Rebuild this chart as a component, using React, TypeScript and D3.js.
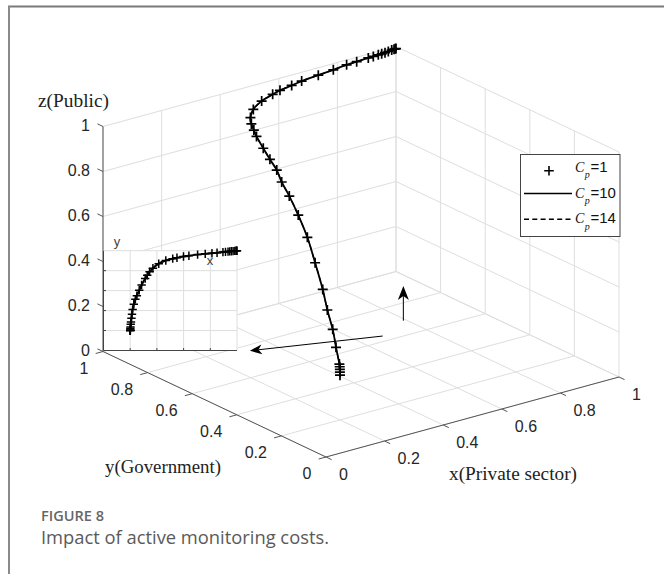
import React from "react";
import * as d3 from "d3";

// ---------- data ----------
// trajectory samples (x: private sector, y: government, z: public)
const trajX = [0.2, 0.2, 0.2003, 0.2006, 0.201, 0.2012, 0.2021, 0.204, 0.2058, 0.2094, 0.2134, 0.2181, 0.2271, 0.2388, 0.2498, 0.2676, 0.2855, 0.3123, 0.3276, 0.345, 0.37, 0.4138, 0.4667, 0.5184, 0.5503, 0.5992, 0.6398, 0.7049, 0.7619, 0.8124, 0.8506, 0.8948, 0.9138, 0.9328, 0.9457, 0.9582, 0.9708, 0.9837, 0.9925, 0.997, 1.0];
const trajY = [0.2, 0.2005, 0.201, 0.202, 0.204, 0.2195, 0.2354, 0.262, 0.285, 0.324, 0.364, 0.411, 0.463, 0.5125, 0.549, 0.603, 0.6564, 0.722, 0.754, 0.788, 0.825, 0.8696, 0.9017, 0.9203, 0.9294, 0.9412, 0.9498, 0.9607, 0.9682, 0.975, 0.98, 0.986, 0.9885, 0.991, 0.9928, 0.9944, 0.9961, 0.9978, 0.999, 0.9995, 1.0];
const trajZ = [0.199, 0.212, 0.224, 0.235, 0.246, 0.313, 0.385, 0.458, 0.538, 0.637, 0.73, 0.805, 0.862, 0.897, 0.929, 0.945, 0.963, 0.975, 0.983, 0.988, 0.99, 0.99, 0.993, 0.996, 0.998, 0.997, 0.998, 0.996, 0.996, 0.997, 0.995, 0.993, 0.992, 0.991, 0.99, 0.99, 0.99, 0.991, 0.991, 0.991, 0.991];

const tickValues = [0, 0.2, 0.4, 0.6, 0.8, 1];
const tickLabels = ["0", "0.2", "0.4", "0.6", "0.8", "1"];
const insetGrid = [0.2, 0.4, 0.6, 0.8, 1];

const legendCp = ["1", "10", "14"];
const legendKinds = ["marker", "solid", "dashed"];

const titleX = "x(Private sector)";
const titleY = "y(Government)";
const titleZ = "z(Public)";
const captionHead = "FIGURE 8";
const captionText = "Impact of active monitoring costs.";

// annotation arrows in data space (floor plane projection pointer, upward pointer)
const arrowFloorFrom = [0.676, 0.634, 0];
const arrowFloorTo = [0.3217, 0.7636, 0];
const arrowUpFrom = [0.791, 0.6924, 0];
const arrowUpTo = [0.791, 0.6924, 0.154];

// ---------- layout ----------
const W = 664;
const H = 574;
const OX = 326;
const OY = 457;

const xToPx = d3.scaleLinear().domain([0, 1]).range([0, 293]);
const xToPy = d3.scaleLinear().domain([0, 1]).range([0, -80]);
const yToPx = d3.scaleLinear().domain([0, 1]).range([0, -223]);
const yToPy = d3.scaleLinear().domain([0, 1]).range([0, -105.5]);
const zToPy = d3.scaleLinear().domain([0, 1]).range([0, -225]);

function proj(x: number, y: number, z: number): [number, number] {
  return [OX + xToPx(x) + yToPx(y), OY + xToPy(x) + yToPy(y) + zToPy(z)];
}

const insetX = d3.scaleLinear().domain([0, 1]).range([103.5, 237]);
const insetY = d3.scaleLinear().domain([0, 1]).range([350.5, 250.7]);

const GRID = "#dedede";
const AXIS = "#555";
const TICKTXT = "#262626";
const SANS = "'Liberation Sans', Arial, sans-serif";
const SERIF = "'Liberation Serif', 'Times New Roman', serif";

function Plus({ x, y, r, sw }: { x: number; y: number; r: number; sw: number }) {
  return (
    <path d={`M${x - r},${y}H${x + r}M${x},${y - r}V${y + r}`} stroke="#000" strokeWidth={sw} fill="none" />
  );
}

function Arrow({ from, to, len, hw }: { from: [number, number]; to: [number, number]; len: number; hw: number }) {
  const dx = to[0] - from[0];
  const dy = to[1] - from[1];
  const d = Math.hypot(dx, dy);
  const ux = dx / d, uy = dy / d;
  const nx = -uy, ny = ux;
  const bx = to[0] - ux * len, by = to[1] - uy * len;
  const notchX = to[0] - ux * len * 0.72, notchY = to[1] - uy * len * 0.72;
  const head = `M${to[0]},${to[1]}L${bx + nx * hw},${by + ny * hw}L${notchX},${notchY}L${bx - nx * hw},${by - ny * hw}Z`;
  return (
    <g>
      <line x1={from[0]} y1={from[1]} x2={notchX} y2={notchY} stroke="#000" strokeWidth={1} />
      <path d={head} fill="#000" stroke="none" />
    </g>
  );
}

export default function App() {
  const pts3 = trajX.map((x, i) => proj(x, trajY[i], trajZ[i]));
  const ptsIn = trajX.map((x, i) => [insetX(x), insetY(trajY[i])] as [number, number]);
  const lineGen = d3.line<[number, number]>().curve(d3.curveCatmullRom.alpha(0.5));

  const grid: JSX.Element[] = [];
  tickValues.forEach((t, i) => {
    const a1 = proj(t, 0, 0), a2 = proj(t, 1, 0);
    const b1 = proj(0, t, 0), b2 = proj(1, t, 0);
    const c1 = proj(t, 1, 0), c2 = proj(t, 1, 1);
    const e1 = proj(0, 1, t), e2 = proj(1, 1, t);
    const f1 = proj(1, t, 0), f2 = proj(1, t, 1);
    const g1 = proj(1, 0, t), g2 = proj(1, 1, t);
    [[a1, a2], [b1, b2], [c1, c2], [e1, e2], [f1, f2], [g1, g2]].forEach((s, j) => {
      grid.push(
        <line key={`g${i}-${j}`} x1={s[0][0]} y1={s[0][1]} x2={s[1][0]} y2={s[1][1]} stroke={GRID} strokeWidth={1} />
      );
    });
  });

  const zAx0 = proj(0, 1, 0), zAx1 = proj(0, 1, 1);
  const yAx0 = proj(0, 0, 0), yAx1 = proj(0, 1, 0);
  const xAx0 = proj(0, 0, 0), xAx1 = proj(1, 0, 0);

  return (
    <svg width={W} height={H} viewBox={`0 0 ${W} ${H}`} style={{ position: "absolute", left: 0, top: 0, background: "#fff" }}>
      <rect x={0} y={0} width={W} height={H} fill="#fff" />
      {/* figure frame */}
      <line x1={8} y1={6.5} x2={W} y2={6.5} stroke="#7a7a7a" strokeWidth={2} />
      <line x1={9} y1={6} x2={9} y2={H} stroke="#8a8a8a" strokeWidth={2} />

      {/* 3D grid */}
      <g>{grid}</g>

      {/* axes */}
      <line x1={zAx0[0]} y1={zAx0[1]} x2={zAx1[0]} y2={zAx1[1]} stroke={AXIS} strokeWidth={1} />
      <line x1={yAx0[0]} y1={yAx0[1]} x2={yAx1[0]} y2={yAx1[1]} stroke={AXIS} strokeWidth={1} />
      <line x1={xAx0[0]} y1={xAx0[1]} x2={xAx1[0]} y2={xAx1[1]} stroke={AXIS} strokeWidth={1} />

      {tickValues.map((t, i) => {
        const pz = proj(0, 1, t), pz2 = proj(0, 1.025, t);
        const py = proj(0, t, 0), py2 = proj(-0.025, t, 0);
        const px = proj(t, 0, 0), px2 = proj(t, -0.025, 0);
        return (
          <g key={`t${i}`}>
            <line x1={pz[0]} y1={pz[1]} x2={pz2[0]} y2={pz2[1]} stroke={AXIS} strokeWidth={1} />
            <line x1={py[0]} y1={py[1]} x2={py2[0]} y2={py2[1]} stroke={AXIS} strokeWidth={1} />
            <line x1={px[0]} y1={px[1]} x2={px2[0]} y2={px2[1]} stroke={AXIS} strokeWidth={1} />
            <text x={pz[0] - 13} y={pz[1] + 4.8} textAnchor="end" fontFamily={SANS} fontSize={16} fill={TICKTXT}>
              {tickLabels[i]}
            </text>
            <text x={py[0] - 14.5} y={py[1] + 22} textAnchor="end" fontFamily={SANS} fontSize={16} fill={TICKTXT}>
              {tickLabels[i]}
            </text>
            <text x={px[0] + 13} y={px[1] + 23} textAnchor="start" fontFamily={SANS} fontSize={16} fill={TICKTXT}>
              {tickLabels[i]}
            </text>
          </g>
        );
      })}

      {/* axis titles */}
      <text x={38} y={106.5} fontFamily={SERIF} fontSize={18.5} fill="#222" textLength={71} lengthAdjust="spacingAndGlyphs">
        {titleZ}
      </text>
      <text x={105} y={473} fontFamily={SERIF} fontSize={18.5} fill="#222" textLength={116} lengthAdjust="spacingAndGlyphs">
        {titleY}
      </text>
      <text x={449} y={479.5} fontFamily={SERIF} fontSize={18.5} fill="#222" textLength={128} lengthAdjust="spacingAndGlyphs">
        {titleX}
      </text>

      {/* 3D trajectory: Cp=10 solid, Cp=14 dashed (coincident), Cp=1 markers */}
      <path d={lineGen(pts3) || ""} fill="none" stroke="#000" strokeWidth={1.8} />
      <path d={lineGen(pts3) || ""} fill="none" stroke="#000" strokeWidth={1.3} strokeDasharray="5,3" />
      {pts3.map((p, i) => (
        <Plus key={`m${i}`} x={p[0]} y={p[1]} r={5} sw={1.7} />
      ))}

      {/* annotation arrows */}
      <Arrow from={proj(arrowFloorFrom[0], arrowFloorFrom[1], arrowFloorFrom[2])} to={proj(arrowFloorTo[0], arrowFloorTo[1], arrowFloorTo[2])} len={12} hw={5} />
      <Arrow from={proj(arrowUpFrom[0], arrowUpFrom[1], arrowUpFrom[2])} to={proj(arrowUpTo[0], arrowUpTo[1], arrowUpTo[2])} len={14} hw={5.5} />

      {/* inset (x-y projection) */}
      <g>
        <rect x={insetX(0)} y={insetY(1)} width={insetX(1) - insetX(0)} height={insetY(0) - insetY(1)} fill="#fff" />
        {insetGrid.map((g, i) => (
          <g key={`ig${i}`}>
            <line x1={insetX(g)} y1={insetY(0)} x2={insetX(g)} y2={insetY(1)} stroke={GRID} strokeWidth={1} />
            <line x1={insetX(0)} y1={insetY(g)} x2={insetX(1)} y2={insetY(g)} stroke={GRID} strokeWidth={1} />
          </g>
        ))}
        {insetGrid.slice(0, 4).map((g, i) => (
          <g key={`it${i}`}>
            <line x1={insetX(g)} y1={insetY(0)} x2={insetX(g)} y2={insetY(0) - 2.5} stroke="#444" strokeWidth={1} />
            <line x1={insetX(0)} y1={insetY(g)} x2={insetX(0) + 2.5} y2={insetY(g)} stroke="#444" strokeWidth={1} />
          </g>
        ))}
        <line x1={insetX(0)} y1={insetY(0)} x2={insetX(1)} y2={insetY(0)} stroke="#444" strokeWidth={1} />
        <line x1={insetX(0)} y1={insetY(0)} x2={insetX(0)} y2={insetY(1)} stroke="#444" strokeWidth={1} />
        <path d={lineGen(ptsIn) || ""} fill="none" stroke="#000" strokeWidth={2} />
        {ptsIn.map((p, i) => (
          <Plus key={`im${i}`} x={p[0]} y={p[1]} r={4.2} sw={1.5} />
        ))}
        <text x={117} y={245.5} textAnchor="middle" fontFamily={SANS} fontSize={13} fill="#444">y</text>
        <text x={210} y={265} textAnchor="middle" fontFamily={SANS} fontSize={13} fill="#444">x</text>
      </g>

      {/* legend */}
      <g>
        <rect x={520.5} y={154.5} width={99.5} height={82} fill="#fff" stroke="#444" strokeWidth={1} />
        {legendCp.map((cp, i) => {
          const by = 171.7 + i * 25.8;
          const kind = legendKinds[i];
          return (
            <g key={`lg${i}`}>
              {kind === "marker" && <Plus x={549} y={by - 1} r={4.8} sw={1.6} />}
              {kind === "solid" && <line x1={524} y1={by - 4} x2={572} y2={by - 4} stroke="#000" strokeWidth={1.6} />}
              {kind === "dashed" && (
                <line x1={524} y1={by - 4} x2={572} y2={by - 4} stroke="#000" strokeWidth={1.6} strokeDasharray="5,3.3" />
              )}
              <text x={575} y={by} fontFamily={SERIF} fontStyle="italic" fontSize={14} fill="#111">C</text>
              <text x={584.8} y={by + 6.5} fontFamily={SERIF} fontStyle="italic" fontSize={10} fill="#111">p</text>
              <text x={590.5} y={by} fontFamily={SANS} fontSize={15} fill="#111">{`=${cp}`}</text>
            </g>
          );
        })}
      </g>

      {/* caption */}
      <text x={41} y={521} fontFamily="'Open Sans', 'Noto Sans', sans-serif" fontWeight={600} fontSize={14.5} fill="#666" textLength={63} lengthAdjust="spacingAndGlyphs">
        {captionHead}
      </text>
      <text x={41} y={544} fontFamily="'Open Sans', 'Noto Sans', sans-serif" fontWeight={400} fontSize={17.5} fill="#5a5a5a" textLength={288} lengthAdjust="spacingAndGlyphs">
        {captionText}
      </text>
    </svg>
  );
}
